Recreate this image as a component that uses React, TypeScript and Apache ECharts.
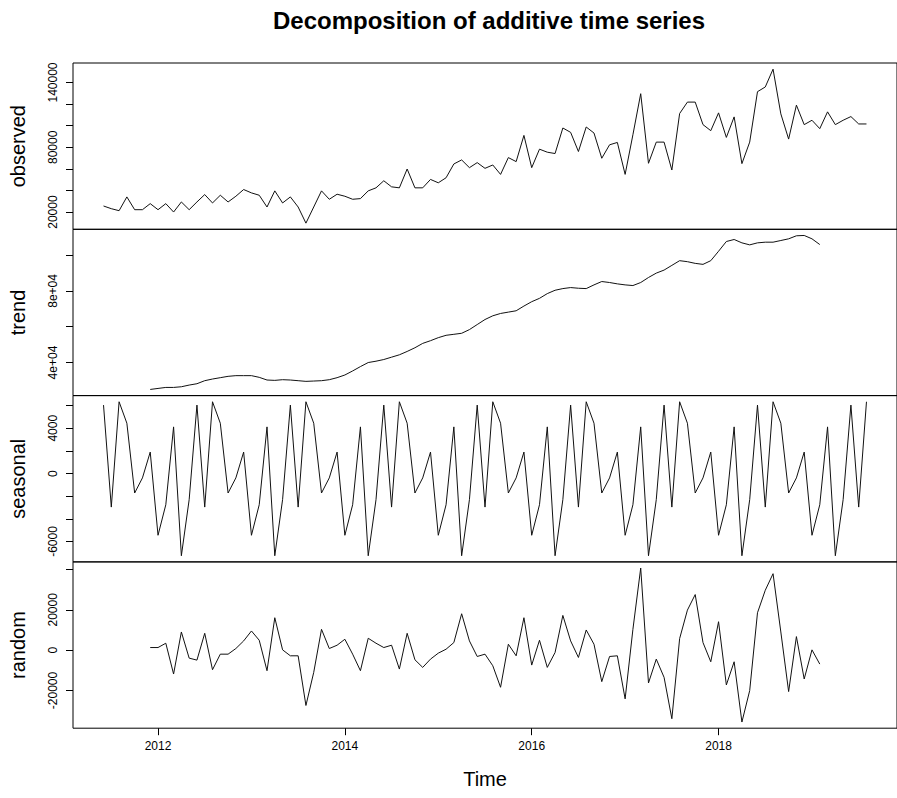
import React, { useEffect, useRef } from "react";
import * as echarts from "echarts";

// ---- Data (monthly, starting June 2011) ----
const START_YEAR = 2011;
const START_MONTH = 6; // June
const TREND_OFFSET = 6; // trend / random start 6 months later

const observed = [
  25607, 23115, 21246, 34018, 22181, 22181, 27788, 22181, 27788, 20000,
  29345, 22181, 29345, 36198, 28411, 35575, 29345, 34641, 40871, 37756,
  35575, 24673, 39625, 28411, 34018, 24673, 9720, 24673, 39625, 31837,
  36510, 34641, 31837, 32460, 39625, 42428, 48970, 43363, 42428, 59872,
  42428, 42428, 50216, 47101, 51773, 64545, 68283, 61118, 65791, 60495,
  63610, 54888, 70463, 66725, 91022, 61118, 78251, 75447, 74201, 97875,
  93826, 76070, 98810, 93203, 69840, 82300, 84481, 54888, 91645, 129648,
  65168, 84792, 84792, 58938, 111270, 121861, 121861, 100990, 95383, 111893,
  89153, 108155, 64856, 84792, 131517, 135878, 152388, 110958, 87596, 119057,
  100990, 105040, 97252, 112827, 100990, 105040, 108466, 101613, 101613,
];

const trend = [
  24976, 25539, 26103, 26103, 26478, 27417, 28169, 29859, 30798, 31549,
  32300, 32676, 32676, 32676, 31737, 30234, 30047, 30422, 30234, 29859,
  29483, 29671, 29859, 30422, 31549, 33051, 35305, 37746, 40000, 40751,
  41690, 43005, 44319, 46197, 48263, 50705, 52207, 53897, 55212, 55775,
  56339, 58404, 61221, 64038, 66104, 67419, 68170, 68921, 71550, 73992,
  75870, 78499, 80377, 81316, 81879, 81504, 81316, 83382, 85260, 84696,
  83945, 83382, 83006, 84696, 87513, 89955, 91645, 94274, 96903, 96340,
  95401, 94838, 96903, 102162, 107608, 108735, 106857, 105730, 106857, 107232,
  107232, 108171, 109110, 110801, 110988, 109110, 105918,
];

// one seasonal cycle, starting with June
const seasonalPattern = [6044, -2963, 6338, 4444, -1719, -385, 1896, -5452, -2756, 4119, -7259, -2307];

const random = [
  1314, 1314, 3448, -11822, 9031, -3941, -4926, 8374, -9688, -1970,
  -1970, 821, 4598, 9524, 4926, -10180, 16092, 164, -2791, -2791,
  -27421, -11001, 10345, 821, 2463, 5419, -1970, -10180, 5911, 3448,
  1314, 2463, -9359, 8374, -4762, -8538, -4433, -1478, 493, 3777,
  18062, 4598, -3120, -1970, -7717, -18390, 2956, -2791, 16092, -7389,
  4926, -8538, -1149, 17241, 4598, -3612, 10016, 2956, -15599, -3120,
  -2791, -24137, 10345, 40722, -16256, -4433, -13464, -33989, 5747, 19868,
  27586, 3777, -5747, 14121, -17241, -5747, -35631, -20032, 18555, 29720,
  37930, 9031, -20525, 6732, -14285, 164, -6896,
];

const xTicks = [2012, 2014, 2016, 2018];
const observedTicks = [20000, 40000, 60000, 80000, 100000, 120000, 140000];
const observedLabels = [20000, 80000, 140000];
const trendTicks = [40000, 60000, 80000, 100000];
const trendLabels = [40000, 80000];
const seasonalTicks = [-6000, -4000, -2000, 0, 2000, 4000, 6000];
const seasonalLabels = [-6000, 0, 4000];
const randomTicks = [-20000, 0, 20000, 40000];
const randomLabels = [-20000, 0, 20000];

// ---- Layout ----
const FONT = "'Liberation Sans', Arial, Helvetica, sans-serif";
const GRID_LEFT = 73;
const GRID_WIDTH = 832;
const PANEL_TOPS = [63, 229.3, 395.6, 561.9];
const PANEL_HEIGHT = 166.3;

const timeOf = (i: number) => START_YEAR + (START_MONTH - 1 + i) / 12;

const t0 = timeOf(0);
const t1 = timeOf(observed.length - 1);
const X_MIN = t0 - 0.04 * (t1 - t0);
const X_MAX = t1 + 0.04 * (t1 - t0);

const padMin = (e: { min: number; max: number }) => e.min - 0.04 * (e.max - e.min);
const padMax = (e: { min: number; max: number }) => e.max + 0.04 * (e.max - e.min);

export default function App() {
  const ref = useRef<HTMLDivElement>(null);

  useEffect(() => {
    if (!ref.current) return;
    const chart = echarts.init(ref.current, undefined, { renderer: "svg" });

    const obsData = observed.map((v, i) => [timeOf(i), v]);
    const trendData = trend.map((v, i) => [timeOf(i + TREND_OFFSET), v]);
    const seasonalData = observed.map((_, i) => [timeOf(i), seasonalPattern[i % 12]]);
    const randomData = random.map((v, i) => [timeOf(i + TREND_OFFSET), v]);

    const panels = [
      { name: "observed", data: obsData, ticks: observedTicks, labels: observedLabels, fmt: (v: number) => String(v) },
      { name: "trend", data: trendData, ticks: trendTicks, labels: trendLabels, fmt: (v: number) => `${Math.round(v / 10000)}e+04` },
      { name: "seasonal", data: seasonalData, ticks: seasonalTicks, labels: seasonalLabels, fmt: (v: number) => String(v) },
      { name: "random", data: randomData, ticks: randomTicks, labels: randomLabels, fmt: (v: number) => String(v) },
    ];

    const textBase = { color: "#000", fontFamily: FONT };

    const option: any = {
      animation: false,
      backgroundColor: "#fff",
      title: {
        text: "Decomposition of additive time series",
        left: GRID_LEFT + GRID_WIDTH / 2,
        top: 8,
        textAlign: "center",
        padding: 0,
        textStyle: { ...textBase, fontSize: 24, fontWeight: "bold" },
      },
      grid: panels.map((_, k) => ({
        left: GRID_LEFT,
        top: PANEL_TOPS[k],
        width: GRID_WIDTH,
        height: PANEL_HEIGHT,
        show: true,
        borderColor: "#000",
        borderWidth: 1,
        backgroundColor: "transparent",
        containLabel: false,
      })),
      xAxis: panels.map((_, k) => {
        const last = k === panels.length - 1;
        return {
          type: "value",
          gridIndex: k,
          position: "bottom",
          min: X_MIN,
          max: X_MAX,
          show: last,
          axisLine: { show: false, onZero: false },
          splitLine: { show: false },
          axisTick: {
            show: last,
            length: 7,
            customValues: xTicks,
            lineStyle: { color: "#000", width: 1 },
          },
          axisLabel: {
            show: last,
            customValues: xTicks,
            margin: 12,
            fontSize: 12,
            ...textBase,
            formatter: (v: number) => String(v),
          },
          name: last ? "Time" : "",
          nameLocation: "middle",
          nameGap: 41,
          nameTextStyle: { ...textBase, fontSize: 20 },
        };
      }),
      yAxis: panels.map((p, k) => ({
        type: "value",
        gridIndex: k,
        position: "left",
        min: padMin,
        max: padMax,
        name: p.name,
        nameLocation: "middle",
        nameRotate: 90,
        nameGap: 45,
        nameTextStyle: { ...textBase, fontSize: 20 },
        axisLine: { show: false, onZero: false },
        splitLine: { show: false },
        axisTick: {
          show: true,
          length: 7,
          customValues: p.ticks,
          lineStyle: { color: "#000", width: 1 },
        },
        axisLabel: {
          show: true,
          rotate: 90,
          margin: 14,
          fontSize: 12,
          ...textBase,
          customValues: p.labels,
          formatter: p.fmt,
        },
      })),
      series: panels.map((p, k) => ({
        type: "line",
        name: p.name,
        xAxisIndex: k,
        yAxisIndex: k,
        data: p.data,
        showSymbol: false,
        symbol: "none",
        silent: true,
        lineStyle: { color: "#111", width: 1 },
      })),
    };

    chart.setOption(option);
    return () => chart.dispose();
  }, []);

  return (
    <div
      ref={ref}
      style={{ position: "absolute", left: 0, top: 0, width: 897, height: 798 }}
    />
  );
}
